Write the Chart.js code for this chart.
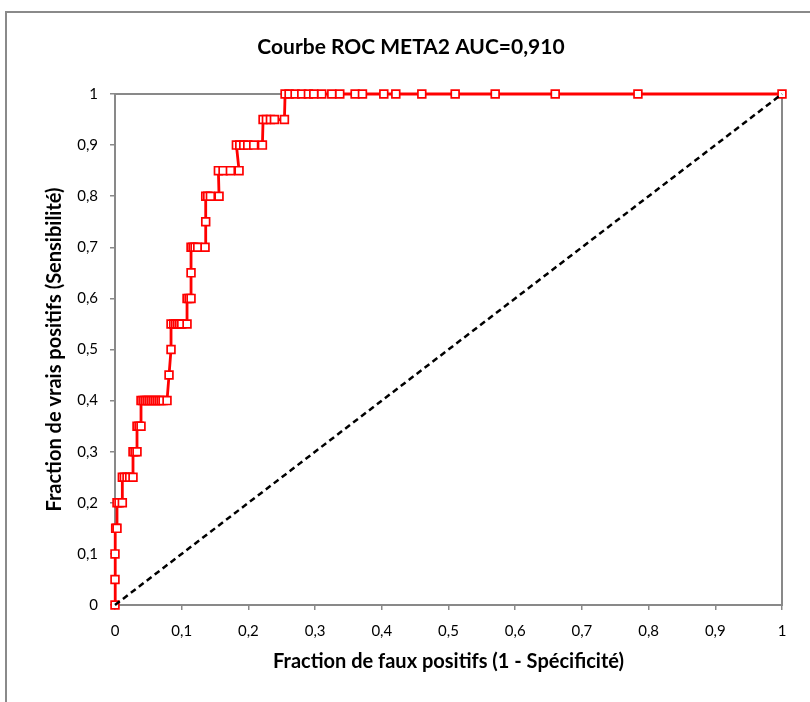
<!DOCTYPE html>
<html>
<head>
<meta charset="utf-8">
<script src="https://cdn.jsdelivr.net/npm/chart.js@4.4.1/dist/chart.umd.min.js"></script>
<style>
  html, body { margin: 0; padding: 0; background: #ffffff; }
  #wrap { width: 810px; height: 702px; position: relative; }
</style>
</head>
<body>
<div id="wrap"><canvas id="roc" width="810" height="702"></canvas></div>
<script>
// ROC points, in curve order
const fpr = [
    0, 0, 0, 0.001, 0.003,
    0.003, 0.006, 0.011,
    0.011, 0.014, 0.018, 0.022, 0.027,
    0.027, 0.030, 0.033,
    0.033, 0.036, 0.039,
    0.039, 0.042, 0.045, 0.048, 0.051, 0.054, 0.057, 0.060, 0.063, 0.066, 0.069, 0.072, 0.078,
    0.081, 0.084,
    0.084, 0.088, 0.091, 0.094, 0.097, 0.100, 0.108,
    0.108, 0.111, 0.114,
    0.114,
    0.114, 0.117, 0.120, 0.124, 0.135,
    0.136,
    0.136, 0.139, 0.143, 0.156,
    0.155, 0.162, 0.173, 0.186,
    0.182, 0.187, 0.193, 0.199, 0.208, 0.221,
    0.222, 0.227, 0.233, 0.239, 0.254,
    0.255, 0.261, 0.270, 0.280, 0.290, 0.298, 0.310, 0.325, 0.337, 0.360, 0.371,
    0.403, 0.421, 0.460, 0.510, 0.570, 0.660, 0.784, 1
];
const tpr = [
    0, 0.05, 0.1, 0.15, 0.15,
    0.2, 0.2, 0.2,
    0.25, 0.25, 0.25, 0.25, 0.25,
    0.3, 0.3, 0.3,
    0.35, 0.35, 0.35,
    0.4, 0.4, 0.4, 0.4, 0.4, 0.4, 0.4, 0.4, 0.4, 0.4, 0.4, 0.4, 0.4,
    0.45, 0.5,
    0.55, 0.55, 0.55, 0.55, 0.55, 0.55, 0.55,
    0.6, 0.6, 0.6,
    0.65,
    0.7, 0.7, 0.7, 0.7, 0.7,
    0.75,
    0.8, 0.8, 0.8, 0.8,
    0.85, 0.85, 0.85, 0.85,
    0.9, 0.9, 0.9, 0.9, 0.9, 0.9,
    0.95, 0.95, 0.95, 0.95, 0.95,
    1, 1, 1, 1, 1, 1, 1, 1, 1, 1, 1,
    1, 1, 1, 1, 1, 1, 1, 1
];
const diagX = [0, 1];
const diagY = [0, 1];

const chartTitle = 'Courbe ROC META2 AUC=0,910';
const xTitle = 'Fraction de faux positifs (1 - Spécificité)';
const yTitle = 'Fraction de vrais positifs (Sensibilité)';

const FONT = "Lato, 'Liberation Sans', sans-serif";
const AXIS_GREY = '#898989';

function fmtTick(v) {
    return String(Number(v.toFixed(1))).replace('.', ',');
}

// outer chart frame + plot area border
const frames = {
    id: 'frames',
    beforeDraw(chart) {
        const ctx = chart.ctx;
        ctx.save();
        ctx.strokeStyle = '#8a8a8a';
        ctx.lineWidth = 2;
        ctx.strokeRect(6, 12, 900, 900);
        ctx.restore();
    },
    beforeDatasetsDraw(chart) {
        const { ctx, chartArea: a } = chart;
        ctx.save();
        ctx.strokeStyle = AXIS_GREY;
        ctx.lineWidth = 2;
        ctx.strokeRect(a.left, a.top, a.right - a.left, a.bottom - a.top);
        ctx.restore();
    }
};

new Chart(document.getElementById('roc').getContext('2d'), {
    type: 'scatter',
    data: {
        datasets: [
            {
                label: 'diag',
                data: diagX.map((x, i) => ({ x, y: diagY[i] })),
                showLine: true,
                clip: false,
                borderColor: '#000000',
                borderWidth: 2.5,
                borderDash: [6, 4],
                pointRadius: 0
            },
            {
                label: 'ROC',
                data: fpr.map((x, i) => ({ x, y: tpr[i] })),
                showLine: true,
                clip: false,
                borderColor: '#ff0000',
                borderWidth: 2.8,
                pointStyle: 'rect',
                pointRadius: 5.5,
                pointBorderWidth: 1.7,
                pointBackgroundColor: '#ffffff',
                pointBorderColor: '#ff0000'
            }
        ]
    },
    options: {
        responsive: false,
        animation: false,
        devicePixelRatio: 1,
        layout: { padding: { left: 40, right: 28, top: 0, bottom: 0 } },
        plugins: {
            legend: { display: false },
            tooltip: { enabled: false },
            title: {
                display: true,
                text: chartTitle,
                color: '#000000',
                font: { family: FONT, size: 21, weight: 'bold', lineHeight: 1.2 },
                padding: { top: 34.4, bottom: 34.4 }
            }
        },
        scales: {
            x: {
                type: 'linear',
                min: 0, max: 1,
                border: { display: true, color: AXIS_GREY, width: 2 },
                grid: { drawOnChartArea: false, drawTicks: true, tickLength: 5, color: AXIS_GREY, lineWidth: 1.5 },
                ticks: {
                    stepSize: 0.1,
                    padding: 12,
                    color: '#000000',
                    maxRotation: 0,
                    autoSkip: false,
                    font: { family: FONT, size: 15 },
                    callback: fmtTick
                },
                title: {
                    display: true,
                    text: xTitle,
                    color: '#000000',
                    font: { family: FONT, size: 20, weight: 'bold', lineHeight: 1.2 },
                    padding: { top: 0, bottom: 28 }
                },
                afterFit(scale) { scale.height = 97; }
            },
            y: {
                type: 'linear',
                min: 0, max: 1,
                border: { display: true, color: AXIS_GREY, width: 2 },
                grid: { drawOnChartArea: false, drawTicks: true, tickLength: 5, color: AXIS_GREY, lineWidth: 1.5 },
                ticks: {
                    stepSize: 0.1,
                    padding: 12,
                    color: '#000000',
                    autoSkip: false,
                    font: { family: FONT, size: 15 },
                    callback: fmtTick
                },
                title: {
                    display: true,
                    text: yTitle,
                    color: '#000000',
                    font: { family: FONT, size: 20, weight: 'bold', lineHeight: 1.2 },
                    padding: { top: 3, bottom: 0 }
                },
                afterFit(scale) { scale.width = 75; }
            }
        }
    },
    plugins: [frames]
});
</script>
</body>
</html>
